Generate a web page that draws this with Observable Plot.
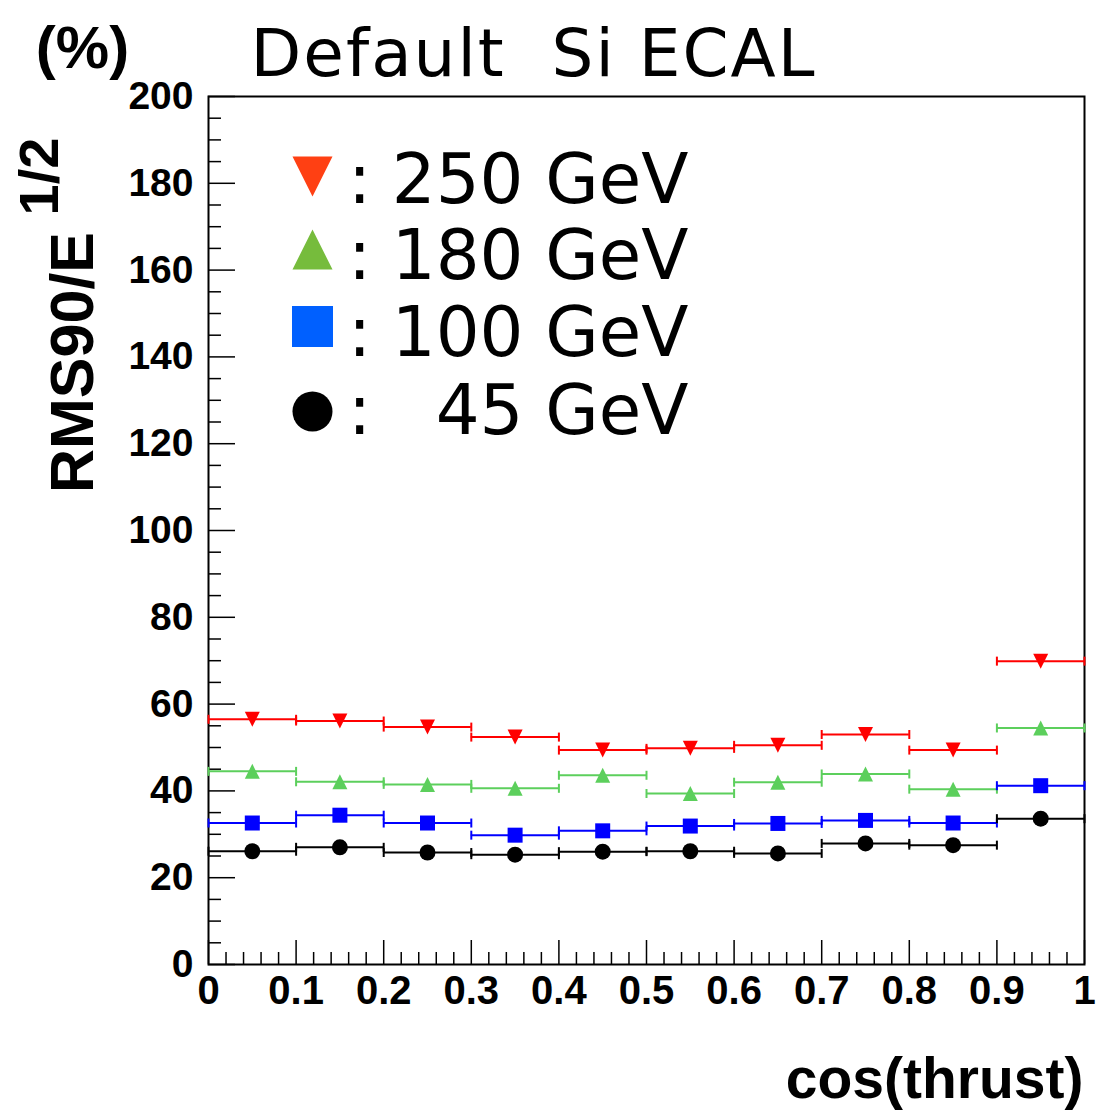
<!DOCTYPE html>
<html><head><meta charset="utf-8">
<script src="https://cdn.jsdelivr.net/npm/d3@7"></script>
<script src="https://cdn.jsdelivr.net/npm/@observablehq/plot@0.6"></script>
<style>body{margin:0;background:#fff}</style>
</head><body><div id="chart"></div>
<script>
// ---- data ----
const binEdges = [0, 0.1, 0.2, 0.3, 0.4, 0.5, 0.6, 0.7, 0.8, 0.9, 1.0];
const energyLabels = ["250 GeV", "180 GeV", "100 GeV", "45 GeV"];
const rms250 = [56.5, 56.1, 54.7, 52.4, 49.4, 49.8, 50.5, 53.0, 49.4, 69.9];
const rms180 = [44.5, 42.1, 41.5, 40.6, 43.6, 39.4, 42.0, 43.9, 40.4, 54.5];
const rms100 = [32.6, 34.4, 32.6, 29.8, 30.8, 31.9, 32.5, 33.2, 32.6, 41.2];
const rms45  = [26.1, 27.0, 25.8, 25.3, 26.0, 26.1, 25.6, 27.9, 27.5, 33.6];
const xTicks = [0, 0.1, 0.2, 0.3, 0.4, 0.5, 0.6, 0.7, 0.8, 0.9, 1];
const xTickLabels = ["0", "0.1", "0.2", "0.3", "0.4", "0.5", "0.6", "0.7", "0.8", "0.9", "1"];
const yTicks = [0, 20, 40, 60, 80, 100, 120, 140, 160, 180, 200];
const xMinor = d3.range(0, 51).map(i => i / 50).filter(v => Math.round(v * 50) % 5 !== 0);
const yMinor = d3.range(0, 41).map(i => i * 5).filter(v => v % 20 !== 0);
const titleText = "Default  Si ECAL";
const yLabelMain = "RMS90/E";
const yLabelSup = "1/2";
const yUnit = "(%)";
const xLabel = "cos(thrust)";

// ---- symbols ----
const rOf = size => Math.sqrt(size / Math.PI);
const triDown = {draw(ctx, size) { const r = rOf(size); ctx.moveTo(-r, -r); ctx.lineTo(r, -r); ctx.lineTo(0, r); ctx.closePath(); }};
const triUp = {draw(ctx, size) { const r = rOf(size); ctx.moveTo(0, -r); ctx.lineTo(r, r); ctx.lineTo(-r, r); ctx.closePath(); }};
const square = {draw(ctx, size) { const r = rOf(size); ctx.rect(-r, -r, 2 * r, 2 * r); }};
const cap = {draw(ctx, size) { const r = rOf(size); ctx.moveTo(0, -r); ctx.lineTo(0, r); }};

const series = [
  {label: energyLabels[0], values: rms250, color: "#ff0000", legendColor: "#ff4013", symbol: triDown, r: 7.5, lr: 20},
  {label: energyLabels[1], values: rms180, color: "#5ccf5c", legendColor: "#76bc3c", symbol: triUp, r: 7.5, lr: 20},
  {label: energyLabels[2], values: rms100, color: "#0000ff", legendColor: "#0060ff", symbol: square, r: 7.5, lr: 20.5},
  {label: energyLabels[3], values: rms45, color: "#000000", legendColor: "#000000", symbol: "circle", r: 8, lr: 20}
];

const W = 1097, H = 1111;
const mL = 208, mT = 96, mR = 13, mB = 147;
const plotW = W - mL - mR, plotH = H - mT - mB;

const marks = [];
// ticks (inward)
marks.push(Plot.tickX(xMinor, {x: d => d, insetTop: plotH - 12, stroke: "black", strokeWidth: 1.5}));
marks.push(Plot.tickX(xTicks, {x: d => d, insetTop: plotH - 24, stroke: "black", strokeWidth: 1.5}));
marks.push(Plot.tickY(yMinor, {y: d => d, insetRight: plotW - 13, stroke: "black", strokeWidth: 1.5}));
marks.push(Plot.tickY(yTicks, {y: d => d, insetRight: plotW - 27, stroke: "black", strokeWidth: 1.5}));
marks.push(Plot.frame({stroke: "black", strokeWidth: 2}));
marks.push(Plot.axisX(xTicks, {tickSize: 0, tickPadding: 11, fontSize: 40, fontWeight: "bold", label: null,
  tickFormat: d => xTickLabels[xTicks.indexOf(d)]}));
marks.push(Plot.axisY(yTicks, {tickSize: 0, tickPadding: 15, fontSize: 39, fontWeight: "bold", label: null,
  tickFormat: d => String(d)}));

// data series
for (const s of series) {
  const rows = s.values.map((v, i) => ({lo: binEdges[i], hi: binEdges[i + 1], mid: (binEdges[i] + binEdges[i + 1]) / 2, v}));
  marks.push(Plot.ruleY(rows, {y: "v", x1: "lo", x2: "hi", stroke: s.color, strokeWidth: 2}));
  marks.push(Plot.dot(rows, {x: "lo", y: "v", symbol: cap, r: 4.5, stroke: s.color, strokeWidth: 2, fill: "none"}));
  marks.push(Plot.dot(rows, {x: "hi", y: "v", symbol: cap, r: 4.5, stroke: s.color, strokeWidth: 2, fill: "none"}));
  marks.push(Plot.dot(rows, {x: "mid", y: "v", symbol: s.symbol, r: s.r, fill: s.color, stroke: "none"}));
}

// legend
const legSymDy = [80, 153, 230, 315];
const legTextDy = [106, 182, 259, 337];
series.forEach((s, i) => {
  marks.push(Plot.dot([s], {frameAnchor: "top-left", dx: 104, dy: legSymDy[i], symbol: s.symbol, r: s.lr, fill: s.legendColor, stroke: "none"}));
  marks.push(Plot.text([":"], {frameAnchor: "top-left", dx: 151, dy: legTextDy[i], text: d => d, fontSize: 69,
    fontFamily: "DejaVu Sans", textAnchor: "middle", lineAnchor: "bottom"}));
  marks.push(Plot.text([s.label], {frameAnchor: "top-left", dx: 480, dy: legTextDy[i], text: d => d, fontSize: 69,
    fontFamily: "DejaVu Sans", textAnchor: "end", lineAnchor: "bottom"}));
});

// titles & labels
marks.push(Plot.text([titleText], {frameAnchor: "top-left", dx: 42, dy: -21, text: d => d, fontSize: 66,
  fontFamily: "DejaVu Sans", textAnchor: "start", lineAnchor: "bottom"}));
marks.push(Plot.text([yUnit], {frameAnchor: "top-left", dx: -126, dy: -29, text: d => d, fontSize: 60,
  fontWeight: "bold", textAnchor: "middle", lineAnchor: "bottom"}));
marks.push(Plot.text([yLabelMain], {frameAnchor: "top-left", dx: -116, dy: 266, text: d => d, fontSize: 61,
  fontWeight: "bold", textAnchor: "middle", lineAnchor: "bottom", rotate: -90}));
marks.push(Plot.text([yLabelSup], {frameAnchor: "top-left", dx: -151, dy: 80, text: d => d, fontSize: 56,
  fontWeight: "bold", textAnchor: "middle", lineAnchor: "bottom", rotate: -90}));
marks.push(Plot.text([xLabel], {frameAnchor: "bottom-right", dx: -1, dy: 133, text: d => d, fontSize: 57,
  fontWeight: "bold", textAnchor: "end", lineAnchor: "bottom"}));

const chart = Plot.plot({
  width: W, height: H,
  marginLeft: mL, marginTop: mT, marginRight: mR, marginBottom: mB,
  x: {domain: [0, 1]},
  y: {domain: [0, 200]},
  style: {fontFamily: "'Liberation Sans', Arial, Helvetica, sans-serif", background: "white", color: "black", overflow: "visible"},
  marks
});
// widen the title slightly to match the reference's wider face
d3.select(chart).selectAll("text").filter(function() { return this.textContent === titleText; })
  .style("letter-spacing", "2px");
document.getElementById("chart").appendChild(chart);
</script>
</body></html>
